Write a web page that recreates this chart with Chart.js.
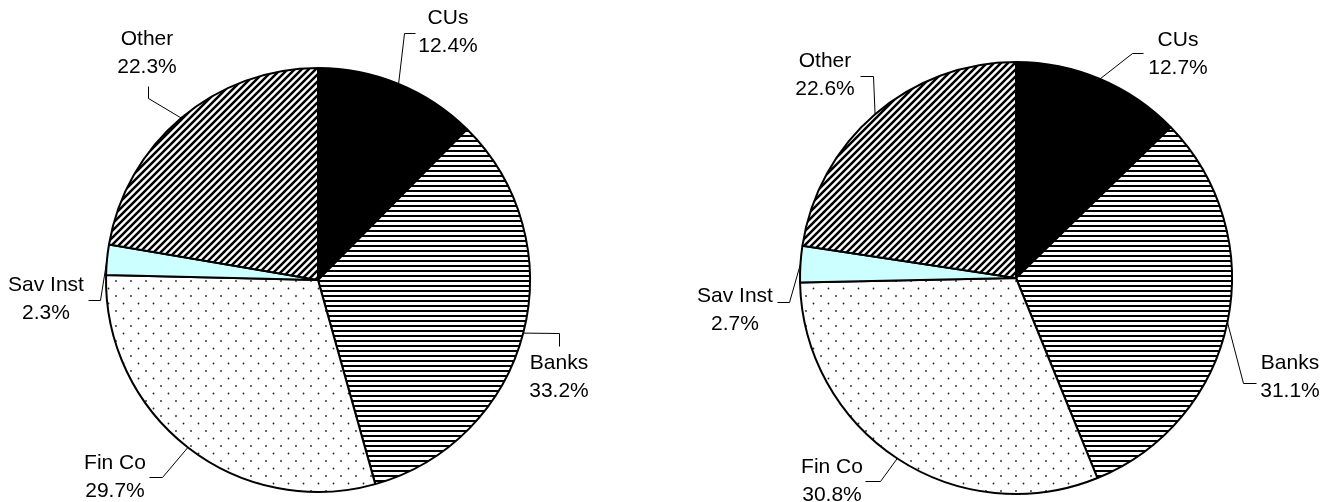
<!DOCTYPE html>
<html>
<head>
<meta charset="utf-8">
<script src="https://cdn.jsdelivr.net/npm/chart.js@4.4.1/dist/chart.umd.min.js"></script>
<style>
  html, body { margin: 0; padding: 0; background: #fff; }
  #wrap { position: relative; width: 1333px; height: 502px; }
  #wrap canvas { position: absolute; left: 0; top: 0; }
</style>
</head>
<body>
<div id="wrap">
  <canvas id="pieLeft" width="1333" height="502"></canvas>
  <canvas id="pieRight" width="1333" height="502"></canvas>
</div>
<script>
// Data
const categories = ["CUs", "Banks", "Fin Co", "Sav Inst", "Other"];
const sharesLeft = [12.4, 33.2, 29.7, 2.3, 22.3];
const sharesRight = [12.7, 31.1, 30.8, 2.7, 22.6];

// Label placement (page coords): text block centre, elbow, end of leader
const spotsLeft = [
  { text: [448, 32], knee: [404, 33], end: [415, 33] },
  { text: [559, 377], knee: [559, 333], end: [559, 346] },
  { text: [115, 477], knee: [162, 477], end: [149, 477] },
  { text: [46, 299], knee: [100, 300], end: [88, 300] },
  { text: [147, 53], knee: [148, 98], end: [148, 86] },
];
const spotsRight = [
  { text: [1178, 54], knee: [1132, 53], end: [1143, 53] },
  { text: [1290, 377], knee: [1243, 383], end: [1256, 383] },
  { text: [832, 481], knee: [880, 481], end: [865, 481] },
  { text: [735, 310], knee: [789, 302], end: [777, 302] },
  { text: [825, 75], knee: [873, 76], end: [860, 76] },
];

// Fill patterns
function makeTile(size, draw) {
  const c = document.createElement("canvas");
  c.width = size;
  c.height = size;
  const g = c.getContext("2d");
  g.fillStyle = "#fff";
  g.fillRect(0, 0, size, size);
  draw(g, size);
  return document.createElement("canvas").getContext("2d").createPattern(c, "repeat");
}

const hStripes = makeTile(5, function (g, s) {
  g.fillStyle = "#000";
  g.fillRect(0, 0, s, 2);
});

const diagStripes = makeTile(7, function (g, s) {
  g.strokeStyle = "#000";
  g.lineWidth = 2.5;
  g.beginPath();
  g.moveTo(-1, s + 1); g.lineTo(s + 1, -1);
  g.moveTo(-1, 1); g.lineTo(1, -1);
  g.moveTo(s - 1, s + 1); g.lineTo(s + 1, s - 1);
  g.stroke();
});

const dots = makeTile(15, function (g) {
  g.fillStyle = "#222";
  g.beginPath();
  g.arc(3.5, 3.5, 0.9, 0, Math.PI * 2);
  g.arc(11, 11, 0.9, 0, Math.PI * 2);
  g.fill();
});

const sliceFills = ["#000000", hStripes, dots, "#ccffff", diagStripes];

// Labels with leader lines
function leaderLabels(spots) {
  return {
    id: "leaderLabels",
    afterDatasetsDraw: function (chart) {
      const ctx = chart.ctx;
      const meta = chart.getDatasetMeta(0);
      const values = chart.data.datasets[0].data;
      ctx.save();
      ctx.strokeStyle = "#000";
      ctx.lineWidth = 1;
      ctx.fillStyle = "#000";
      ctx.font = "21px 'Liberation Sans', Arial, sans-serif";
      ctx.textAlign = "center";
      ctx.textBaseline = "middle";
      meta.data.forEach(function (arc, i) {
        const p = arc.getProps(["x", "y", "startAngle", "endAngle", "outerRadius"], true);
        const mid = (p.startAngle + p.endAngle) / 2;
        const ex = p.x + Math.cos(mid) * p.outerRadius;
        const ey = p.y + Math.sin(mid) * p.outerRadius;
        const s = spots[i];
        ctx.beginPath();
        ctx.moveTo(ex, ey);
        ctx.lineTo(s.knee[0] + 0.5, s.knee[1] + 0.5);
        ctx.lineTo(s.end[0] + 0.5, s.end[1] + 0.5);
        ctx.stroke();
        ctx.fillText(chart.data.labels[i], s.text[0], s.text[1] - 14);
        ctx.fillText(values[i].toFixed(1) + "%", s.text[0], s.text[1] + 14);
      });
      ctx.restore();
    },
  };
}

function makePie(id, values, spots, padding) {
  new Chart(document.getElementById(id), {
    type: "pie",
    data: {
      labels: categories,
      datasets: [
        {
          data: values,
          backgroundColor: sliceFills,
          borderColor: "#000",
          borderWidth: 2,
          hoverBorderWidth: 2,
        },
      ],
    },
    options: {
      responsive: false,
      animation: false,
      events: [],
      layout: { padding: padding },
      plugins: {
        legend: { display: false },
        tooltip: { enabled: false },
      },
    },
    plugins: [leaderLabels(spots)],
  });
}

makePie("pieLeft", sharesLeft, spotsLeft, { left: 105, right: 802, top: 67, bottom: 9 });
makePie("pieRight", sharesRight, spotsRight, { left: 799, right: 100, top: 61, bottom: 7 });
</script>
</body>
</html>
